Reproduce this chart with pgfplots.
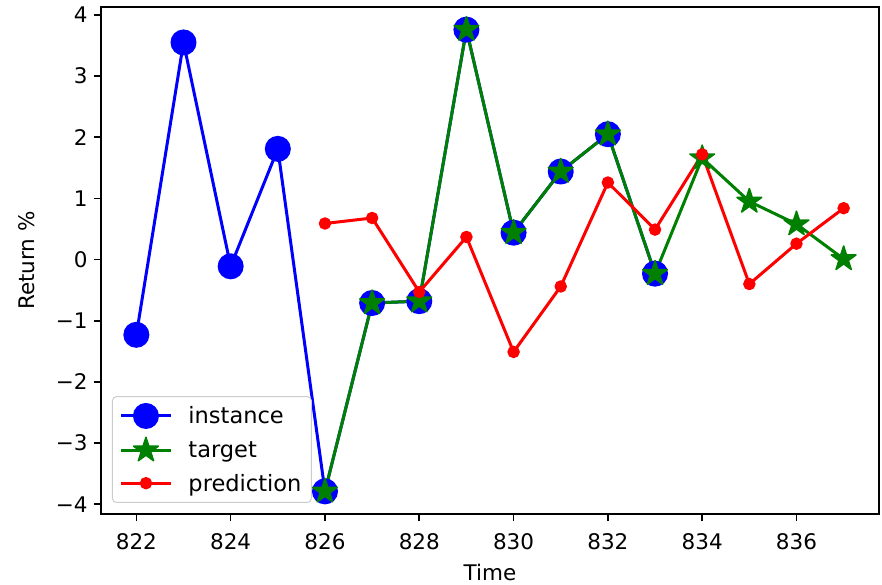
\documentclass[border=0pt]{standalone}
\usepackage{fontspec}
\setmainfont{DejaVu Sans}
\usepackage{pgfplots}
\pgfplotsset{compat=1.18}

\definecolor{mplblue}{rgb}{0,0,1}
\definecolor{mplgreen}{rgb}{0,0.5,0}
\definecolor{mplred}{rgb}{1,0,0}
\definecolor{legendedge}{gray}{0.8}

% filled five-pointed star
\pgfdeclareplotmark{fstar}{%
  \pgfpathmoveto{\pgfqpointpolar{90}{\pgfplotmarksize}}%
  \pgfpathlineto{\pgfqpointpolar{126}{0.381966\pgfplotmarksize}}%
  \pgfpathlineto{\pgfqpointpolar{162}{\pgfplotmarksize}}%
  \pgfpathlineto{\pgfqpointpolar{198}{0.381966\pgfplotmarksize}}%
  \pgfpathlineto{\pgfqpointpolar{234}{\pgfplotmarksize}}%
  \pgfpathlineto{\pgfqpointpolar{270}{0.381966\pgfplotmarksize}}%
  \pgfpathlineto{\pgfqpointpolar{306}{\pgfplotmarksize}}%
  \pgfpathlineto{\pgfqpointpolar{342}{0.381966\pgfplotmarksize}}%
  \pgfpathlineto{\pgfqpointpolar{18}{\pgfplotmarksize}}%
  \pgfpathlineto{\pgfqpointpolar{54}{0.381966\pgfplotmarksize}}%
  \pgfpathclose
  \pgfusepathqfillstroke
}

\newcommand\chartfont{\fontsize{21.5bp}{26bp}\selectfont}
\newcommand\legendfont{\fontsize{22.5bp}{27bp}\selectfont}

\begin{document}
\begin{tikzpicture}
\begin{axis}[
  scale only axis, width=778bp, height=507bp,
  xmin=821.25, xmax=837.75, ymin=-4.16, ymax=4.13,
  axis line style={line width=1.6bp, black},
  tick align=outside, xtick pos=bottom, ytick pos=left,
  major tick length=7bp,
  every tick/.style={black, line width=1.6bp},
  xtick={822,824,...,836},
  xticklabels={822,824,826,828,830,832,834,836},
  ytick={-4,-3,...,4},
  yticklabels={−4,−3,−2,−1,0,1,2,3,4},
  ticklabel style={font=\chartfont},
  xticklabel style={yshift=-9bp},
  yticklabel style={xshift=-3bp},
  xlabel={Time}, ylabel={Return \%},
  label style={font=\chartfont},
  xlabel style={at={(axis description cs:0.5,-0.1144)}, anchor=center},
  ylabel style={at={(axis description cs:-0.0951,0.5)}, anchor=center},
  legend style={at={(axis description cs:0.0141,0.0217)}, anchor=south west,
    draw=legendedge, line width=1bp, rounded corners=4bp, fill=white,
    font=\legendfont, inner xsep=7bp, inner ysep=7bp, row sep=9bp,
    column sep=13bp, nodes={inner sep=3bp}},
  legend cell align=left,
  legend image code/.code={%
    \draw[mark repeat=2,mark phase=2] plot coordinates {(0bp,0bp) (25bp,0bp) (50bp,0bp)};},
  every axis plot/.append style={line width=3bp, line join=round},
]
\addplot[mplblue, mark=*, mark size=12bp, mark options={line width=2bp}] coordinates {
  (822,-1.23) (823,3.55) (824,-0.11) (825,1.81) (826,-3.79) (827,-0.71)
  (828,-0.68) (829,3.76) (830,0.44) (831,1.44) (832,2.05) (833,-0.23)
};
\addlegendentry{instance}
\addplot[mplgreen, mark=fstar, mark size=13bp, mark options={line width=1.5bp}] coordinates {
  (826,-3.79) (827,-0.71) (828,-0.68) (829,3.76) (830,0.44) (831,1.44)
  (832,2.05) (833,-0.23) (834,1.66) (835,0.95) (836,0.58) (837,0.01)
};
\addlegendentry{target}
\addplot[mplred, mark=*, mark size=5.5bp, mark options={line width=1.5bp}] coordinates {
  (826,0.59) (827,0.68) (828,-0.53) (829,0.37) (830,-1.51) (831,-0.44)
  (832,1.26) (833,0.49) (834,1.72) (835,-0.40) (836,0.26) (837,0.84)
};
\addlegendentry{prediction}
\end{axis}
\pgfresetboundingbox
\path ([shift={(-101bp,-71bp)}]current axis.south west) rectangle ([shift={(3bp,7bp)}]current axis.north east);
\end{tikzpicture}
\end{document}
